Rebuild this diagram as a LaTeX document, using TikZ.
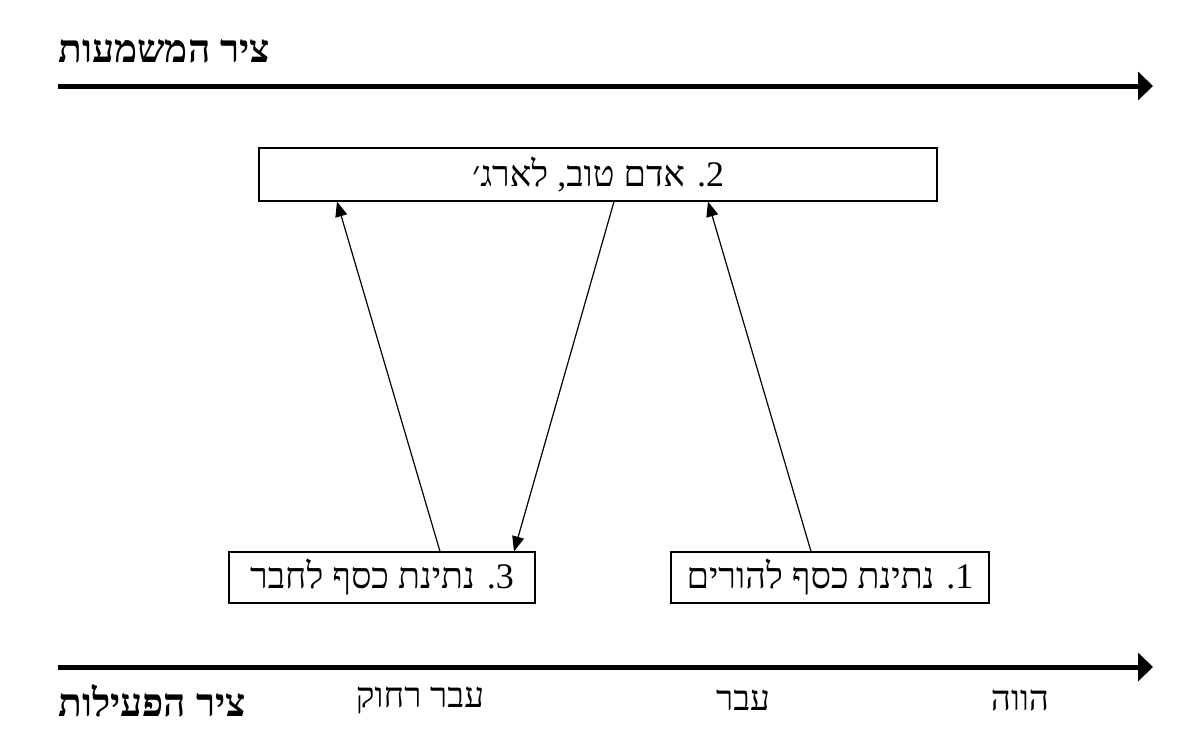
\documentclass[tikz,border=0pt]{standalone}
\usepackage{fontspec}
\TeXXeTstate=1
\setmainfont{Liberation Serif}
\newfontfamily\heb[Script=Hebrew]{Liberation Serif}
\usetikzlibrary{arrows.meta,calc}
\tikzset{
  axis/.style={line width=2.5pt,-{Triangle[length=7.5pt,width=14pt]}},
  conn/.style={line width=0.6pt,-{Triangle[length=7.5pt,width=6pt]}},
  box/.style={draw,line width=0.6pt,inner sep=0pt,font=\heb\fontsize{18}{20}\selectfont},
  lbl/.style={inner sep=0pt,font=\heb\fontsize{17.5}{20}\selectfont},
  ttl/.style={inner sep=0pt,font=\heb\bfseries\fontsize{19.5}{22}\selectfont}
}
\begin{document}
\begin{tikzpicture}[x=0.5pt,y=-0.5pt]
\useasboundingbox (0,0) rectangle (1197,752);
% axes
\coordinate (t0) at (58,86);
\coordinate (t1) at (1153,86);
\coordinate (a0) at (58,667);
\coordinate (a1) at (1153,667);
\draw[axis] (t0) -- (t1);
\draw[axis] (a0) -- (a1);
% titles
\node[ttl,anchor=west] (ttop) at (58,51) {\beginR ציר המשמעות\endR};
\node[ttl,anchor=west] (tbot) at (58,701) {\beginR ציר הפעילות\endR};
\node[lbl] (far) at (420,700) {\beginR עבר רחוק\endR};
\node[lbl] (past) at (743,700) {\beginR עבר\endR};
\node[lbl] (now) at (1020,700) {\beginR הווה\endR};
% boxes
\node[box,minimum width=339pt,minimum height=26.5pt] (b2) at (598,174.5) {\beginR 2. אדם טוב, לארג׳\endR};
\node[box,minimum width=153pt,minimum height=25.5pt] (b3) at (382,577.5) {\beginR 3. נתינת כסף לחבר\endR};
\node[box,minimum width=159pt,minimum height=25.5pt] (b1) at (830,577.5) {\beginR 1. נתינת כסף להורים\endR};
% connectors
\draw[conn] ($(b3.north)+(58,0)$) -- ($(b2.south)+(-261,0)$);
\draw[conn] ($(b2.south)+(16,0)$) -- ($(b3.north)+(132,0)$);
\draw[conn] ($(b1.north)+(-19,0)$) -- ($(b2.south)+(110,0)$);
\end{tikzpicture}
\end{document}
